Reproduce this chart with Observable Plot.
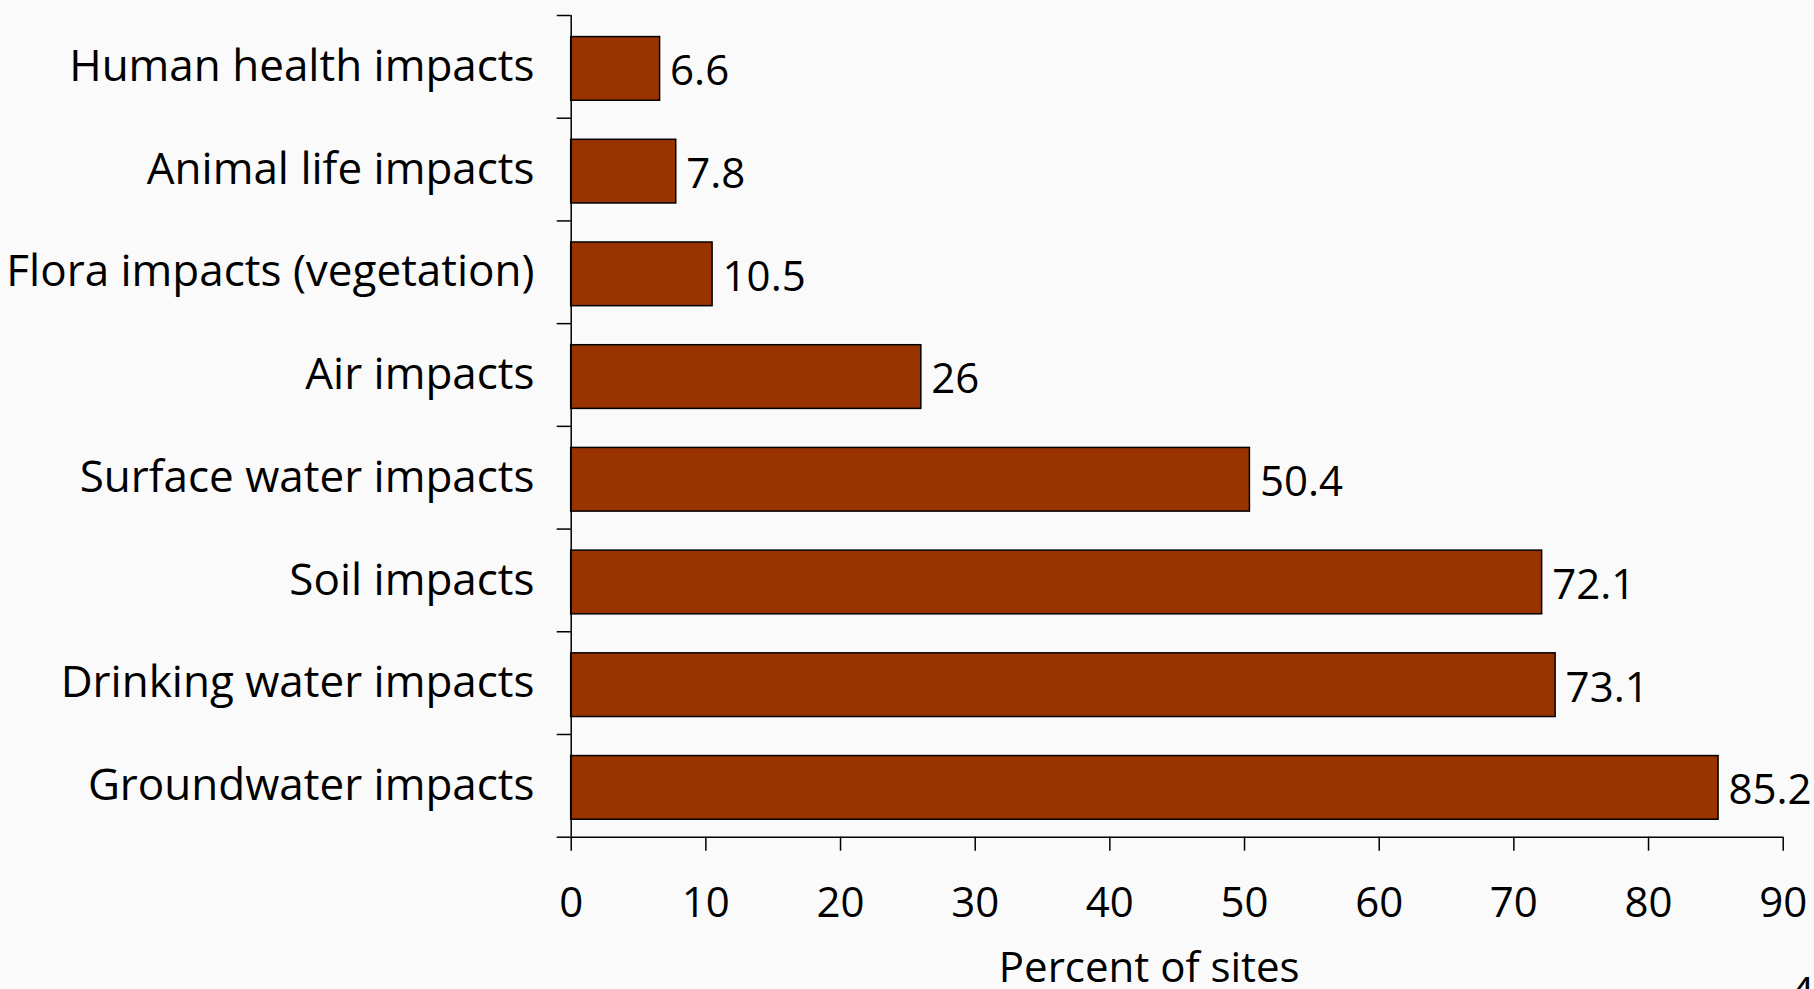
<!DOCTYPE html>
<html><head><meta charset="utf-8">
<script src="https://cdn.jsdelivr.net/npm/d3@7"></script>
<script src="https://cdn.jsdelivr.net/npm/@observablehq/plot@0.6"></script>
<style>html,body{margin:0;padding:0;background:#fafafa;overflow:hidden}</style>
</head><body><div id="chart"></div>
<script>
const categories = ["Human health impacts", "Animal life impacts", "Flora impacts (vegetation)", "Air impacts", "Surface water impacts", "Soil impacts", "Drinking water impacts", "Groundwater impacts"];
const values = [6.6, 7.8, 10.5, 26, 50.4, 72.1, 73.1, 85.2];
const xTicks = [0, 10, 20, 30, 40, 50, 60, 70, 80, 90];
const xLabel = "Percent of sites";
const pageNumber = "4";

const data = categories.map((c, i) => ({category: c, index: i, value: values[i]}));
const FONT = "'Open Sans', sans-serif";
const n = categories.length;

const chart = Plot.plot({
  width: 1814, height: 1010,
  marginTop: 15, marginBottom: 173.3, marginLeft: 570.7, marginRight: 31.3,
  style: {background: "#fafafa", fontFamily: FONT, fontSize: "42px", color: "#000"},
  x: {domain: [0, 90]},
  y: {domain: [0, n], reverse: true},
  marks: [
    Plot.rectX(data, {x1: 0, x2: "value", y1: d => d.index + 0.21, y2: d => d.index + 0.83, fill: "#993300", stroke: "#000", strokeWidth: 1.5}),
    Plot.ruleX([0], {stroke: "#000", strokeWidth: 1.5}),
    Plot.ruleY([n], {stroke: "#000", strokeWidth: 1.5}),
    Plot.axisX({ticks: xTicks, tickSize: 14, tickPadding: 36, strokeWidth: 1.5, label: null}),
    Plot.axisY({ticks: d3.range(n + 1), tickSize: 14, tickFormat: () => "", strokeWidth: 1.5, label: null}),
    Plot.axisY({ticks: categories.map((c, i) => i + 0.5), tickSize: 0, tickPadding: 36.7, fontSize: 44, tickFormat: t => categories[Math.floor(t)], label: null}),
    Plot.text(data, {x: "value", y: d => d.index + 0.5, text: d => String(d.value), textAnchor: "start", dx: 10, dy: 5}),
    Plot.text([xLabel], {frameAnchor: "bottom", dx: -28, dy: 131, lineAnchor: "middle"}),
    Plot.text([pageNumber], {frameAnchor: "bottom-right", textAnchor: "start", dx: 7, dy: 156, lineAnchor: "middle"})
  ]
});
document.getElementById("chart").appendChild(chart);
</script>
</body></html>
